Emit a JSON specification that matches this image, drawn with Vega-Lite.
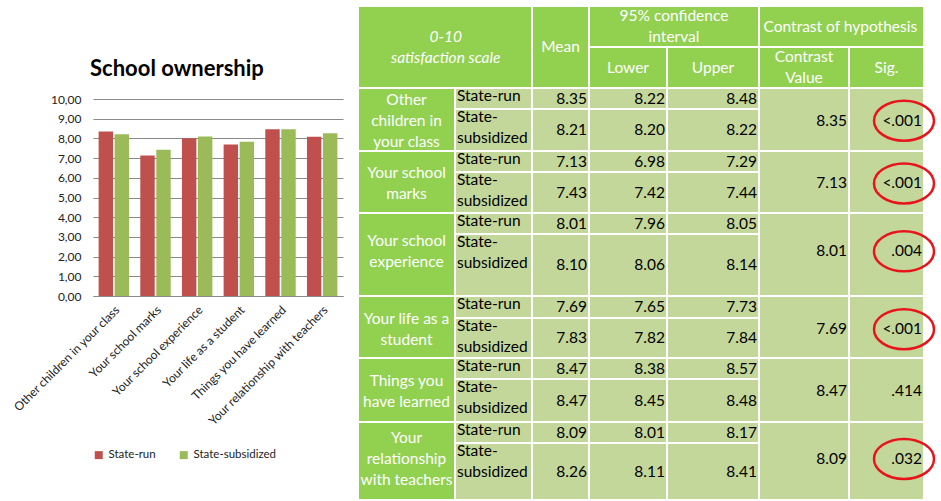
{
  "$schema": "https://vega.github.io/schema/vega-lite/v6.json",
  "background": "white",
  "padding": {"left": 10, "top": 5, "right": 0, "bottom": 0},
  "spacing": 14,
  "resolve": {"scale": {"color": "independent"}, "legend": {"color": "independent"}},
  "config": {
    "view": {"stroke": null},
    "font": "Lato",
    "text": {"font": "Lato", "fontSize": 15.5, "lineBreak": "\n", "lineHeight": 21},
    "axis": {"labelFont": "Lato"},
    "legend": {"labelFont": "Lato"}
  },
  "datasets": {
    "bars": [
      {"item": "Other children in your class", "ownership": "State-run", "mean": 8.35},
      {"item": "Other children in your class", "ownership": "State-subsidized", "mean": 8.21},
      {"item": "Your school marks", "ownership": "State-run", "mean": 7.13},
      {"item": "Your school marks", "ownership": "State-subsidized", "mean": 7.43},
      {"item": "Your school experience", "ownership": "State-run", "mean": 8.01},
      {"item": "Your school experience", "ownership": "State-subsidized", "mean": 8.10},
      {"item": "Your life as a student", "ownership": "State-run", "mean": 7.69},
      {"item": "Your life as a student", "ownership": "State-subsidized", "mean": 7.83},
      {"item": "Things you have learned", "ownership": "State-run", "mean": 8.47},
      {"item": "Things you have learned", "ownership": "State-subsidized", "mean": 8.47},
      {"item": "Your relationship with teachers", "ownership": "State-run", "mean": 8.09},
      {"item": "Your relationship with teachers", "ownership": "State-subsidized", "mean": 8.26}
    ],
    "cells": [
      {"kind": "header", "text": "0-10\nsatisfaction scale", "c0": 0, "c1": 2, "r0": 0, "r1": 2},
      {"kind": "header", "text": "Mean", "c0": 2, "c1": 3, "r0": 0, "r1": 2},
      {"kind": "header", "text": "95% confidence\ninterval", "c0": 3, "c1": 5, "r0": 0, "r1": 1},
      {"kind": "header", "text": "Lower", "c0": 3, "c1": 4, "r0": 1, "r1": 2},
      {"kind": "header", "text": "Upper", "c0": 4, "c1": 5, "r0": 1, "r1": 2},
      {"kind": "header", "text": "Contrast of hypothesis", "c0": 5, "c1": 7, "r0": 0, "r1": 1},
      {"kind": "header", "text": "Contrast\nValue", "c0": 5, "c1": 6, "r0": 1, "r1": 2},
      {"kind": "header", "text": "Sig.", "c0": 6, "c1": 7, "r0": 1, "r1": 2},

      {"kind": "topic", "text": "Other\nchildren in\nyour class", "c0": 0, "c1": 1, "r0": 2, "r1": 4},
      {"kind": "group", "text": "State-run", "c0": 1, "c1": 2, "r0": 2, "r1": 3},
      {"kind": "value", "text": "8.35", "c0": 2, "c1": 3, "r0": 2, "r1": 3},
      {"kind": "value", "text": "8.22", "c0": 3, "c1": 4, "r0": 2, "r1": 3},
      {"kind": "value", "text": "8.48", "c0": 4, "c1": 5, "r0": 2, "r1": 3},
      {"kind": "group", "text": "State-\nsubsidized", "c0": 1, "c1": 2, "r0": 3, "r1": 4},
      {"kind": "value", "text": "8.21", "c0": 2, "c1": 3, "r0": 3, "r1": 4},
      {"kind": "value", "text": "8.20", "c0": 3, "c1": 4, "r0": 3, "r1": 4},
      {"kind": "value", "text": "8.22", "c0": 4, "c1": 5, "r0": 3, "r1": 4},
      {"kind": "value", "text": "8.35", "c0": 5, "c1": 6, "r0": 2, "r1": 4},
      {"kind": "value", "text": "<.001", "c0": 6, "c1": 7, "r0": 2, "r1": 4, "circled": true},

      {"kind": "topic", "text": "Your school\nmarks", "c0": 0, "c1": 1, "r0": 4, "r1": 6},
      {"kind": "group", "text": "State-run", "c0": 1, "c1": 2, "r0": 4, "r1": 5},
      {"kind": "value", "text": "7.13", "c0": 2, "c1": 3, "r0": 4, "r1": 5},
      {"kind": "value", "text": "6.98", "c0": 3, "c1": 4, "r0": 4, "r1": 5},
      {"kind": "value", "text": "7.29", "c0": 4, "c1": 5, "r0": 4, "r1": 5},
      {"kind": "group", "text": "State-\nsubsidized", "c0": 1, "c1": 2, "r0": 5, "r1": 6},
      {"kind": "value", "text": "7.43", "c0": 2, "c1": 3, "r0": 5, "r1": 6},
      {"kind": "value", "text": "7.42", "c0": 3, "c1": 4, "r0": 5, "r1": 6},
      {"kind": "value", "text": "7.44", "c0": 4, "c1": 5, "r0": 5, "r1": 6},
      {"kind": "value", "text": "7.13", "c0": 5, "c1": 6, "r0": 4, "r1": 6},
      {"kind": "value", "text": "<.001", "c0": 6, "c1": 7, "r0": 4, "r1": 6, "circled": true},

      {"kind": "topic", "text": "Your school\nexperience", "c0": 0, "c1": 1, "r0": 6, "r1": 8},
      {"kind": "group", "text": "State-run", "c0": 1, "c1": 2, "r0": 6, "r1": 7},
      {"kind": "value", "text": "8.01", "c0": 2, "c1": 3, "r0": 6, "r1": 7},
      {"kind": "value", "text": "7.96", "c0": 3, "c1": 4, "r0": 6, "r1": 7},
      {"kind": "value", "text": "8.05", "c0": 4, "c1": 5, "r0": 6, "r1": 7},
      {"kind": "group", "text": "State-\nsubsidized", "c0": 1, "c1": 2, "r0": 7, "r1": 8},
      {"kind": "value", "text": "8.10", "c0": 2, "c1": 3, "r0": 7, "r1": 8},
      {"kind": "value", "text": "8.06", "c0": 3, "c1": 4, "r0": 7, "r1": 8},
      {"kind": "value", "text": "8.14", "c0": 4, "c1": 5, "r0": 7, "r1": 8},
      {"kind": "value", "text": "8.01", "c0": 5, "c1": 6, "r0": 6, "r1": 8},
      {"kind": "value", "text": ".004", "c0": 6, "c1": 7, "r0": 6, "r1": 8, "circled": true},

      {"kind": "topic", "text": "Your life as a\nstudent", "c0": 0, "c1": 1, "r0": 8, "r1": 10},
      {"kind": "group", "text": "State-run", "c0": 1, "c1": 2, "r0": 8, "r1": 9},
      {"kind": "value", "text": "7.69", "c0": 2, "c1": 3, "r0": 8, "r1": 9},
      {"kind": "value", "text": "7.65", "c0": 3, "c1": 4, "r0": 8, "r1": 9},
      {"kind": "value", "text": "7.73", "c0": 4, "c1": 5, "r0": 8, "r1": 9},
      {"kind": "group", "text": "State-\nsubsidized", "c0": 1, "c1": 2, "r0": 9, "r1": 10},
      {"kind": "value", "text": "7.83", "c0": 2, "c1": 3, "r0": 9, "r1": 10},
      {"kind": "value", "text": "7.82", "c0": 3, "c1": 4, "r0": 9, "r1": 10},
      {"kind": "value", "text": "7.84", "c0": 4, "c1": 5, "r0": 9, "r1": 10},
      {"kind": "value", "text": "7.69", "c0": 5, "c1": 6, "r0": 8, "r1": 10},
      {"kind": "value", "text": "<.001", "c0": 6, "c1": 7, "r0": 8, "r1": 10, "circled": true},

      {"kind": "topic", "text": "Things you\nhave learned", "c0": 0, "c1": 1, "r0": 10, "r1": 12},
      {"kind": "group", "text": "State-run", "c0": 1, "c1": 2, "r0": 10, "r1": 11},
      {"kind": "value", "text": "8.47", "c0": 2, "c1": 3, "r0": 10, "r1": 11},
      {"kind": "value", "text": "8.38", "c0": 3, "c1": 4, "r0": 10, "r1": 11},
      {"kind": "value", "text": "8.57", "c0": 4, "c1": 5, "r0": 10, "r1": 11},
      {"kind": "group", "text": "State-\nsubsidized", "c0": 1, "c1": 2, "r0": 11, "r1": 12},
      {"kind": "value", "text": "8.47", "c0": 2, "c1": 3, "r0": 11, "r1": 12},
      {"kind": "value", "text": "8.45", "c0": 3, "c1": 4, "r0": 11, "r1": 12},
      {"kind": "value", "text": "8.48", "c0": 4, "c1": 5, "r0": 11, "r1": 12},
      {"kind": "value", "text": "8.47", "c0": 5, "c1": 6, "r0": 10, "r1": 12},
      {"kind": "value", "text": ".414", "c0": 6, "c1": 7, "r0": 10, "r1": 12, "circled": false},

      {"kind": "topic", "text": "Your\nrelationship\nwith teachers", "c0": 0, "c1": 1, "r0": 12, "r1": 14},
      {"kind": "group", "text": "State-run", "c0": 1, "c1": 2, "r0": 12, "r1": 13},
      {"kind": "value", "text": "8.09", "c0": 2, "c1": 3, "r0": 12, "r1": 13},
      {"kind": "value", "text": "8.01", "c0": 3, "c1": 4, "r0": 12, "r1": 13},
      {"kind": "value", "text": "8.17", "c0": 4, "c1": 5, "r0": 12, "r1": 13},
      {"kind": "group", "text": "State-\nsubsidized", "c0": 1, "c1": 2, "r0": 13, "r1": 14},
      {"kind": "value", "text": "8.26", "c0": 2, "c1": 3, "r0": 13, "r1": 14},
      {"kind": "value", "text": "8.11", "c0": 3, "c1": 4, "r0": 13, "r1": 14},
      {"kind": "value", "text": "8.41", "c0": 4, "c1": 5, "r0": 13, "r1": 14},
      {"kind": "value", "text": "8.09", "c0": 5, "c1": 6, "r0": 12, "r1": 14},
      {"kind": "value", "text": ".032", "c0": 6, "c1": 7, "r0": 12, "r1": 14, "circled": true}
    ]
  },
  "hconcat": [
    {
      "spacing": 0,
      "resolve": {"scale": {"color": "independent"}, "legend": {"color": "independent"}},
      "vconcat": [
        {
          "width": 10,
          "height": 52,
          "data": {"values": []},
          "mark": "text",
          "encoding": {}
        },
        {
          "data": {"name": "bars"},
          "width": 250,
          "height": 197,
          "title": {
            "text": "School ownership",
            "font": "Lato",
            "fontSize": 22,
            "fontWeight": "bold",
            "color": "#000000",
            "anchor": "middle",
            "frame": "bounds",
            "baseline": "alphabetic",
            "offset": -5
          },
          "mark": {"type": "bar"},
          "encoding": {
            "x": {
              "field": "item",
              "type": "nominal",
              "sort": null,
              "scale": {"paddingInner": 0.27, "paddingOuter": 0.135},
              "axis": {
                "title": null,
                "labelAngle": -45,
                "labelFontSize": 12,
                "labelColor": "#222222",
                "labelLimit": 300,
                "labelPadding": 8,
                "ticks": false,
                "domainColor": "#8a8a8a"
              }
            },
            "xOffset": {
              "field": "ownership",
              "type": "nominal",
              "scale": {"paddingInner": 0.1}
            },
            "y": {
              "field": "mean",
              "type": "quantitative",
              "scale": {"domain": [0, 10], "nice": false},
              "axis": {
                "title": null,
                "values": [0, 1, 2, 3, 4, 5, 6, 7, 8, 9, 10],
                "labelExpr": "replace(format(datum.value, '.2f'), '.', ',')",
                "grid": true,
                "gridColor": "#8a8a8a",
                "domain": false,
                "ticks": false,
                "labelFontSize": 12,
                "labelColor": "#222222",
                "labelPadding": 12
              }
            },
            "color": {
              "field": "ownership",
              "type": "nominal",
              "scale": {"domain": ["State-run", "State-subsidized"], "range": ["#C0504D", "#9BBB59"]},
              "legend": {
                "title": null,
                "orient": "bottom",
                "offset": 21,
                "direction": "horizontal",
                "symbolType": "square",
                "symbolSize": 64,
                "symbolStrokeWidth": 0,
                "labelFontSize": 11.5,
                "labelColor": "#222222",
                "columnPadding": 22
              }
            }
          }
        }
      ]
    },
    {
      "data": {"name": "cells"},
      "width": 566,
      "height": 494,
      "transform": [
        {"calculate": "datum.c1 - datum.c0 == 1 ? (datum.c0 + datum.c1) / 2 : datum.c0 + (datum.c1 - datum.c0) * (datum.c0 == 3 ? 0.538 : 0.452)", "as": "xm"},
        {"calculate": "datum.kind == 'header' || datum.r1 - datum.r0 == 1 ? (datum.r0 + datum.r1) / 2 : datum.r0 + (datum.r1 - datum.r0) * 0.64", "as": "ym"},
        {"calculate": "length(split(datum.text, '\\n'))", "as": "nlines"}
      ],
      "encoding": {
        "x": {"field": "c0", "type": "quantitative", "axis": null,
              "scale": {"type": "linear", "domain": [0, 1, 2, 3, 4, 5, 6, 7], "range": [0, 97, 174, 231, 309, 401, 491, 566], "nice": false, "zero": false}},
        "y": {"field": "r0", "type": "quantitative", "axis": null,
              "scale": {"type": "linear", "domain": [0, 1, 2, 3, 4, 5, 6, 7, 8, 9, 10, 11, 12, 13, 14], "range": [0, 41, 82, 103, 145, 166, 207, 228, 290, 312, 352, 373, 416, 437, 494], "nice": false, "zero": false}}
      },
      "layer": [
        {
          "transform": [{"filter": "datum.kind == 'header' || datum.kind == 'topic'"}],
          "mark": {"type": "rect", "fill": "#92D050", "stroke": "white", "strokeWidth": 2},
          "encoding": {
            "x2": {"field": "c1"},
            "y2": {"field": "r1"}
          }
        },
        {
          "transform": [{"filter": "datum.kind == 'group' || datum.kind == 'value'"}],
          "mark": {"type": "rect", "fill": "#C4D79B", "stroke": "white", "strokeWidth": 2},
          "encoding": {
            "x2": {"field": "c1"},
            "y2": {"field": "r1"}
          }
        },
        {
          "transform": [{"filter": "datum.kind == 'header' && datum.c0 != 0 && datum.nlines == 1"}],
          "mark": {"type": "text", "color": "white", "align": "center", "baseline": "middle"},
          "encoding": {
            "x": {"field": "xm", "type": "quantitative"},
            "y": {"field": "ym", "type": "quantitative"},
            "text": {"field": "text"}
          }
        },
        {
          "transform": [{"filter": "datum.kind == 'header' && datum.c0 != 0 && datum.nlines == 2"}],
          "mark": {"type": "text", "color": "white", "align": "center", "baseline": "middle", "dy": -10.5},
          "encoding": {
            "x": {"field": "xm", "type": "quantitative"},
            "y": {"field": "ym", "type": "quantitative"},
            "text": {"field": "text"}
          }
        },
        {
          "transform": [{"filter": "datum.kind == 'header' && datum.c0 == 0"}],
          "mark": {"type": "text", "color": "white", "align": "center", "baseline": "middle", "fontStyle": "italic", "dy": -10.5},
          "encoding": {
            "x": {"field": "xm", "type": "quantitative"},
            "y": {"field": "ym", "type": "quantitative"},
            "text": {"field": "text"}
          }
        },
        {
          "transform": [{"filter": "datum.kind == 'topic' && datum.nlines == 2"}],
          "mark": {"type": "text", "color": "white", "align": "center", "baseline": "middle", "dy": -10.5},
          "encoding": {
            "x": {"field": "xm", "type": "quantitative"},
            "y": {"field": "ym", "type": "quantitative"},
            "text": {"field": "text"}
          }
        },
        {
          "transform": [{"filter": "datum.kind == 'topic' && datum.nlines == 3"}],
          "mark": {"type": "text", "color": "white", "align": "center", "baseline": "middle", "dy": -21},
          "encoding": {
            "x": {"field": "xm", "type": "quantitative"},
            "y": {"field": "ym", "type": "quantitative"},
            "text": {"field": "text"}
          }
        },
        {
          "transform": [{"filter": "datum.kind == 'group'"}],
          "mark": {"type": "text", "color": "black", "align": "left", "baseline": "top", "dx": 2, "dy": 1},
          "encoding": {
            "text": {"field": "text"}
          }
        },
        {
          "transform": [{"filter": "datum.kind == 'value'"}],
          "mark": {"type": "text", "color": "black", "align": "right", "baseline": "middle", "dx": -2},
          "encoding": {
            "x": {"field": "c1", "type": "quantitative"},
            "y": {"field": "ym", "type": "quantitative"},
            "text": {"field": "text"}
          }
        },
        {
          "transform": [{"filter": "datum.circled == true"}],
          "mark": {"type": "point", "shape": "M-1,0A1,0.667,0,1,1,1,0A1,0.667,0,1,1,-1,0Z", "size": 3600, "filled": false, "stroke": "#E8141B", "strokeWidth": 2.5, "opacity": 1, "xOffset": -20},
          "encoding": {
            "x": {"field": "c1", "type": "quantitative"},
            "y": {"field": "ym", "type": "quantitative"}
          }
        }
      ]
    }
  ]
}
